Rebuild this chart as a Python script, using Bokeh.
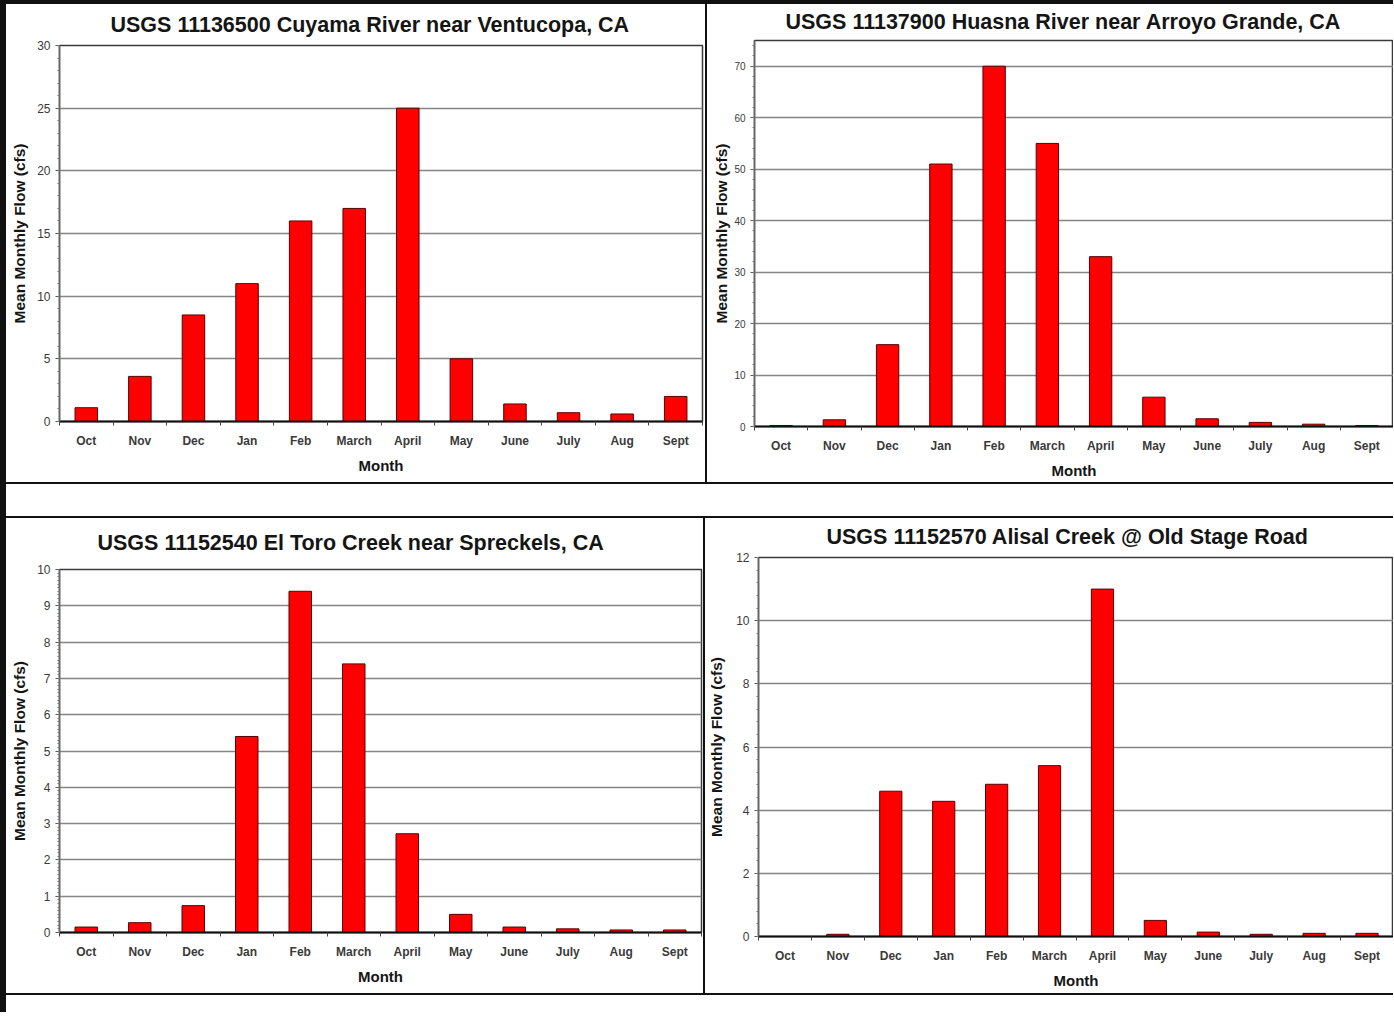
from bokeh.plotting import figure
from bokeh.layouts import row, column
from bokeh.models import Div, Spacer, FixedTicker, SingleIntervalTicker, Range1d
from bokeh.embed import file_html
from bokeh.resources import INLINE

months = ["Oct", "Nov", "Dec", "Jan", "Feb", "March", "April", "May", "June", "July", "Aug", "Sept"]
cuyama = [1.1, 3.6, 8.5, 11.0, 16.0, 17.0, 25.0, 5.0, 1.4, 0.7, 0.6, 2.0]
huasna = [0.2, 1.3, 15.9, 51.0, 70.0, 55.0, 33.0, 5.7, 1.5, 0.8, 0.45, 0.2]
eltoro = [0.15, 0.27, 0.74, 5.4, 9.4, 7.4, 2.72, 0.5, 0.15, 0.1, 0.07, 0.07]
alisal = [0.0, 0.07, 4.6, 4.28, 4.82, 5.41, 11.0, 0.51, 0.14, 0.07, 0.1, 0.1]

title_cuyama = "USGS 11136500 Cuyama River near Ventucopa, CA"
title_huasna = "USGS 11137900 Huasna River near Arroyo Grande, CA"
title_eltoro = "USGS 11152540 El Toro Creek near Spreckels, CA"
title_alisal = "USGS 11152570 Alisal Creek @ Old Stage Road"
y_label = "Mean Monthly Flow (cfs)"
x_label = "Month"

FONT = "Liberation Sans"


def panel(title, values, ymax, yint, nminor, w, h, bl, br, bt, bb,
          t_off, t_stand, ytick_size, ylab_stand):
    n = len(months)
    xs = [i + 0.5 for i in range(n)]
    p = figure(width=w, height=h, x_range=Range1d(0, n), y_range=Range1d(0, ymax),
               min_border_left=bl, min_border_right=br, min_border_top=bt,
               min_border_bottom=bb, toolbar_location=None, tools="",
               output_backend="svg", margin=0, frame_align=False, title=title)
    p.title.align = "left"
    p.title.vertical_align = "top"
    p.title.offset = t_off
    p.title.standoff = t_stand
    p.title.text_font = FONT
    p.title.text_font_size = "21.5px"
    p.title.text_font_style = "bold"
    p.title.text_color = "#151515"

    p.vbar(x=xs, top=values, bottom=0, width=0.42, fill_color="#ff0000",
           line_color="#5a0000", line_width=1)

    xa = p.xaxis[0]
    xa.ticker = FixedTicker(ticks=xs, minor_ticks=list(range(n + 1)))
    xa.major_label_overrides = {x: m for x, m in zip(xs, months)}
    xa.major_tick_line_color = None
    xa.minor_tick_in = 0
    xa.minor_tick_out = 4
    xa.minor_tick_line_color = "#444"
    xa.axis_line_color = "#111"
    xa.axis_line_width = 2
    xa.major_label_text_font = FONT
    xa.major_label_text_font_size = "12px"
    xa.major_label_text_font_style = "bold"
    xa.major_label_text_color = "#3a3a3a"
    xa.major_label_standoff = 6
    xa.axis_label = x_label
    xa.axis_label_text_font = FONT
    xa.axis_label_text_font_size = "15px"
    xa.axis_label_text_font_style = "bold"
    xa.axis_label_text_color = "#151515"
    xa.axis_label_standoff = 6

    ya = p.yaxis[0]
    ticker = SingleIntervalTicker(interval=yint, num_minor_ticks=nminor)
    ya.ticker = ticker
    ya.major_tick_in = 0
    ya.major_tick_out = 4
    ya.minor_tick_in = 0
    ya.minor_tick_out = 2
    ya.major_tick_line_color = "#555"
    ya.minor_tick_line_color = "#777"
    ya.axis_line_color = "#666"
    ya.axis_line_width = 1.5
    ya.major_label_text_font = FONT
    ya.major_label_text_font_size = ytick_size
    ya.major_label_text_color = "#3a3a3a"
    ya.major_label_standoff = 5
    ya.axis_label = y_label
    ya.axis_label_text_font = FONT
    ya.axis_label_text_font_size = "15.5px"
    ya.axis_label_text_font_style = "bold"
    ya.axis_label_text_color = "#151515"
    ya.axis_label_standoff = ylab_stand

    p.xgrid.visible = False
    p.ygrid.ticker = ticker
    p.ygrid.grid_line_color = "#858585"
    p.ygrid.grid_line_width = 1.5

    p.outline_line_color = "#3a3a3a"
    p.outline_line_width = 1.5
    p.background_fill_color = "white"
    p.border_fill_color = "white"
    return p


def bar(w, h):
    return Div(text="", width=w, height=h, margin=0,
               styles={"background-color": "#111"})


p1 = panel(title_cuyama, cuyama, 30, 5, 5, 699, 478, 53, 3, 41, 61, 51, 14, "12px", 6)
p2 = panel(title_huasna, huasna, 75, 10, 5, 686, 478, 47, 0, 36, 56, 31, 10, "10px", 1)
p3 = panel(title_eltoro, eltoro, 10, 1, 10, 697, 475, 53, 2, 51, 61, 38, 25, "12px", 6)
p4 = panel(title_alisal, alisal, 12, 2, 5, 688, 475, 53, 0, 39, 57, 68, 13, "12px", 8)

W = 1387
top = row(p1, bar(2, 478), p2, margin=0)
bottom = row(p3, bar(2, 475), p4, margin=0)
body = column(bar(W, 4), top, bar(W, 2), Spacer(width=W, height=32, margin=0),
              bar(W, 2), bottom, bar(W, 2), margin=0)
page = row(bar(6, 1012), body, margin=0)

open("out.html", "w").write(file_html(page, INLINE))
